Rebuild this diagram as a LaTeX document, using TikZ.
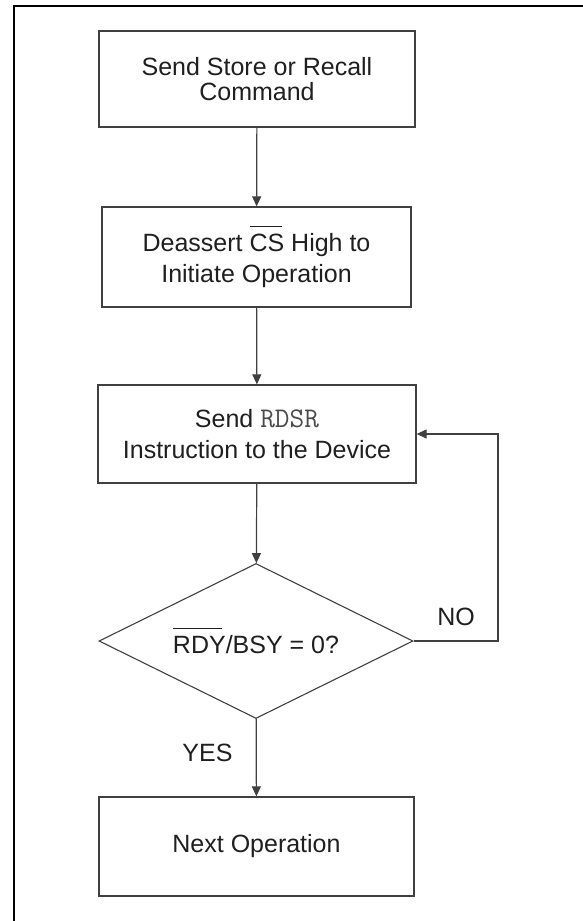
\documentclass[tikz,border=0pt]{standalone}
\usepackage{fontspec}
\setmainfont{Liberation Sans}
\usetikzlibrary{arrows.meta,shapes.geometric}
\newcommand{\barTxt}[1]{\leavevmode\setbox0\hbox{#1}\rlap{\raisebox{\dimexpr\ht0+7pt\relax}{\rule{0.93\wd0}{1.2pt}}}\box0\relax}
\begin{document}
\begin{tikzpicture}[x=1pt,y=-1pt,
    procBox/.style={draw=black!75,line width=1.3pt,rectangle,align=center,inner sep=0pt,text=black!88,font=\fontsize{25}{31}\selectfont},
    decBox/.style={draw=black!75,line width=1.1pt,diamond,aspect=2.03,inner sep=0pt,minimum width=314pt,minimum height=155pt,text=black!88,font=\fontsize{25}{31}\selectfont},
    flowArr/.style={draw=black!75,line width=1.2pt,-{Triangle[length=10pt,width=9pt]}},
    lblTxt/.style={text=black!88,font=\fontsize{25}{31}\selectfont,inner sep=0pt}]

\useasboundingbox (0,0) rectangle (583,921);
\draw[line width=2.3pt] (13.8,921) -- (13.8,6) -- (583,6);

\node[procBox,minimum width=316pt,minimum height=96pt] (cmd) at (257,79) {Send Store or Recall\\[-6pt]Command};
\node[procBox,minimum width=309pt,minimum height=100pt] (cs) at (256.5,257) {Deassert \barTxt{CS} High to\\Initiate Operation};
\node[procBox,minimum width=318pt,minimum height=98pt] (rdsr) at (257,434) {Send {\ttfamily\fontsize{28.5}{31}\selectfont\color{black!70}RDSR}\\Instruction to the Device};
\node[decBox] (rdy) at (256,641) {\barTxt{RDY}/BSY = 0?};
\node[procBox,minimum width=315pt,minimum height=99pt] (next) at (256.5,846.5) {Next Operation};

\coordinate (cLoop) at (498,641);

\foreach \a/\b in {cmd/cs,cs/rdsr,rdsr/rdy,rdy/next}
{
    \draw[flowArr] (\a) -- (\b);
};
\draw[flowArr] (rdy.east) -- (cLoop) |- (rdsr.east);

\node[lblTxt] (noLbl) at (456,617) {NO};
\node[lblTxt] (yesLbl) at (207.5,753) {YES};
\end{tikzpicture}
\end{document}
